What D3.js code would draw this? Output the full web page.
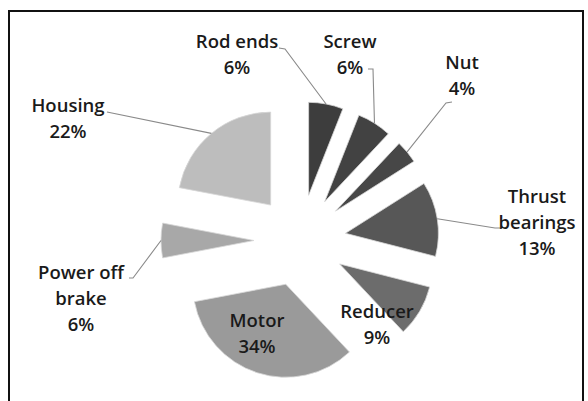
<!DOCTYPE html>
<html>
<head>
<meta charset="utf-8">
<script src="https://cdn.jsdelivr.net/npm/d3@7"></script>
<style>
  html, body { margin: 0; padding: 0; background: #fff; }
  svg { display: block; }
  text { font-family: "Open Sans", "DejaVu Sans", sans-serif; }
</style>
</head>
<body>
<svg id="chart" width="588" height="401"></svg>
<script>
// Cost share of the actuator components (percent)
const categories = ["Rod ends", "Screw", "Nut", "Thrust bearings", "Reducer", "Motor", "Power off brake", "Housing"];
const values = [6, 6, 4, 13, 9, 34, 6, 22];
const labelLines = [
  ["Rod ends"], ["Screw"], ["Nut"], ["Thrust", "bearings"],
  ["Reducer"], ["Motor"], ["Power off", "brake"], ["Housing"]
];
const sliceColors = ["#3d3d3d", "#424242", "#474747", "#575757", "#6c6c6c", "#9a9a9a", "#a8a8a8", "#bdbdbd"];

// Layout
const W = 588, H = 401;
const cx = 300, cy = 240.5;      // pie centre
const R = 93;                    // slice radius
const explode = 46;              // distance each slice is pulled out
const lineH = 26;

// Label blocks: centre x and first baseline y, plus leader path near the label
const labelLayout = [
  { x: 237, y: 48,  leader: [[279, 48], [285, 49]] },
  { x: 350, y: 48,  leader: [[368, 69], [373, 69]] },
  { x: 462, y: 69,  leader: [[452, 102], [446, 103]] },
  { x: 537, y: 203, leader: [[500, 228], [495, 228]] },
  { x: 377, y: 318, leader: null },
  { x: 257, y: 327, leader: null },
  { x: 81,  y: 279, leader: [[129, 278], [133, 278]] },
  { x: 68,  y: 112, leader: [[107, 112]] }
];

const svg = d3.select("#chart");

// Frame
svg.append("rect")
  .attr("x", 9).attr("y", 11)
  .attr("width", 574).attr("height", 420)
  .attr("fill", "none")
  .attr("stroke", "#111")
  .attr("stroke-width", 2);

const pie = d3.pie().sort(null).value(d => d)(values);
const arc = d3.arc().innerRadius(0).outerRadius(R);

// Unit direction (screen coords) of an angle measured clockwise from 12 o'clock
const dir = a => [Math.sin(a), -Math.cos(a)];

const slices = svg.append("g");
pie.forEach((p, i) => {
  const mid = (p.startAngle + p.endAngle) / 2;
  const [ux, uy] = dir(mid);
  slices.append("path")
    .attr("d", arc(p))
    .attr("transform", `translate(${cx + ux * explode},${cy + uy * explode})`)
    .attr("fill", sliceColors[i])
    .attr("stroke", "#d8d8d8")
    .attr("stroke-width", 0.8);
});

// Leader lines from the outer arc midpoint to the label
const leaders = svg.append("g");
pie.forEach((p, i) => {
  const lay = labelLayout[i];
  if (!lay.leader) return;
  const mid = (p.startAngle + p.endAngle) / 2;
  const [ux, uy] = dir(mid);
  const ax = cx + ux * (explode + R), ay = cy + uy * (explode + R);
  const pts = lay.leader.concat([[ax, ay]]);
  leaders.append("path")
    .attr("d", d3.line()(pts))
    .attr("fill", "none")
    .attr("stroke", "#8a8a8a")
    .attr("stroke-width", 1.1);
});

// Data labels: category name then percentage
const labels = svg.append("g");
pie.forEach((p, i) => {
  const lay = labelLayout[i];
  const lines = labelLines[i].concat([values[i] + "%"]);
  const t = labels.append("text")
    .attr("text-anchor", "middle")
    .attr("font-size", 18.5)
    .attr("font-weight", 600)
    .attr("fill", "#1a1a1a");
  lines.forEach((s, k) => {
    t.append("tspan")
      .attr("x", lay.x)
      .attr("y", lay.y + k * lineH)
      .text(s);
  });
});
</script>
</body>
</html>
